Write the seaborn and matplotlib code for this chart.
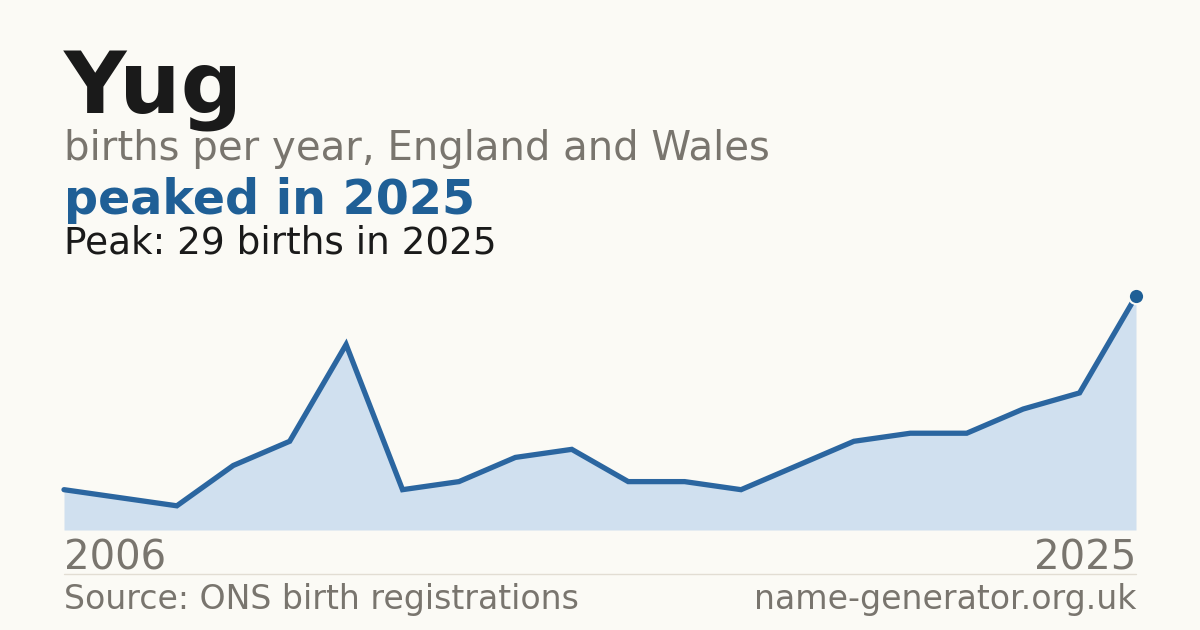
import numpy as np
import pandas as pd
import matplotlib
matplotlib.use("Agg")
import matplotlib.pyplot as plt
import seaborn as sns

# Data
years = list(range(2006, 2026))
births = [5, 4, 3, 8, 11, 23, 5, 6, 9, 10, 6, 6, 5, 8, 11, 12, 12, 15, 17, 29]

name = "Yug"
subtitle = "births per year, England and Wales"
headline = "peaked in 2025"
peak_note = "Peak: 29 births in 2025"
source = "Source: ONS birth registrations"
site = "name-generator.org.uk"

bg = "#fbfaf5"
blue = "#1f5f96"
line_col = "#2b66a0"
fill_col = "#d0e0ef"
grey = "#79756e"
dark = "#1a1a1a"

df = pd.DataFrame({"year": years, "births": births})

sns.set_theme(style="white")
plt.rcParams["font.family"] = ["DejaVu Sans"]

W, H = 1200, 630
fig = plt.figure(figsize=(12, 6.3), dpi=100, facecolor=bg)


def px(x, y):
    return x / W, 1 - y / H


# plot area: x 64..1136, y 280..530
ax = fig.add_axes([64 / W, (H - 530) / H, 1072 / W, 250 / H])
ax.set_facecolor(bg)
ax.fill_between(df["year"], df["births"], 0, color=fill_col, lw=0)
sns.lineplot(data=df, x="year", y="births", ax=ax, color=line_col, lw=3.8,
             solid_joinstyle="miter", clip_on=False)
peak = df.loc[df["births"].idxmax()]
ax.plot([peak["year"]], [peak["births"]], "o", color=blue, ms=11,
        mec=bg, mew=1.5, clip_on=False, zorder=5)
ax.set_xlim(years[0], years[-1])
ax.set_ylim(0, 31)
ax.axis("off")

# header
fig.text(*px(64, 113), name, fontsize=62, fontweight="bold", color=dark, va="baseline")
fig.text(*px(64, 160), subtitle, fontsize=29, color=grey, va="baseline")
fig.text(*px(64, 214), headline, fontsize=34.3, fontweight="bold", color=blue, va="baseline")
fig.text(*px(64, 253), peak_note, fontsize=26.9, color=dark, va="baseline")

# year labels
fig.text(*px(64, 570), str(years[0]), fontsize=29, color=grey, va="baseline")
fig.text(*px(1136, 570), str(years[-1]), fontsize=29, color=grey, va="baseline", ha="right")

# separator
fig.add_artist(plt.Line2D([64 / W, 1136 / W], [1 - 574 / H] * 2, color="#e2ddd3", lw=1))

# footer
fig.text(*px(64, 609), source, fontsize=23.9, color=grey, va="baseline")
fig.text(*px(1136, 609), site, fontsize=23.9, color=grey, va="baseline", ha="right")

fig.savefig("out.png", dpi=100, facecolor=bg)
